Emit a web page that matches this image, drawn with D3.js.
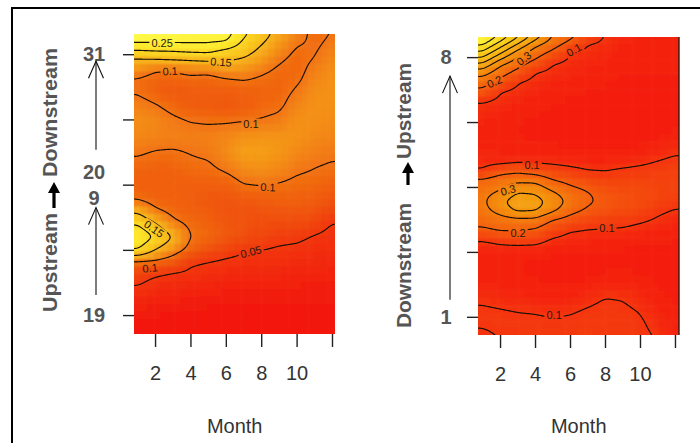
<!DOCTYPE html>
<html>
<head>
<meta charset="utf-8">
<script src="https://cdn.jsdelivr.net/npm/d3@7"></script>
<style>
  body { margin: 0; background: #fff; }
  text { font-family: 'Liberation Sans', Arial, sans-serif; }
</style>
</head>
<body>
<svg id="chart" width="700" height="443"></svg>
<script>
const months = d3.range(1, 13)

// left panel: site position (0 = site 19 ... 4 = site 31), one profile per month, top -> bottom
const leftPos = [4.31, 4.18, 4.06, 3.94, 3.79, 3.63, 3.45, 3.23, 2.99, 2.74, 2.5, 2.25, 2.01, 1.76, 1.58, 1.39, 1.2, 1.0, 0.81, 0.6, 0.35, 0.05, -0.29]
const leftByMonth = [
  [0.30, 0.25, 0.20, 0.15, 0.124, 0.098, 0.097, 0.107, 0.117, 0.113, 0.103, 0.092, 0.087, 0.099, 0.145, 0.20, 0.24, 0.20, 0.09, 0.06, 0.043, 0.03, 0.02],
  [0.29, 0.25, 0.205, 0.155, 0.105, 0.092, 0.088, 0.101, 0.112, 0.109, 0.099, 0.089, 0.088, 0.09, 0.106, 0.156, 0.197, 0.15, 0.09, 0.05, 0.037, 0.027, 0.02],
  [0.28, 0.253, 0.206, 0.159, 0.105, 0.092, 0.08, 0.092, 0.104, 0.108, 0.098, 0.09, 0.087, 0.09, 0.093, 0.108, 0.15, 0.117, 0.08, 0.043, 0.035, 0.026, 0.02],
  [0.27, 0.255, 0.213, 0.162, 0.113, 0.095, 0.085, 0.083, 0.099, 0.107, 0.101, 0.095, 0.088, 0.086, 0.089, 0.095, 0.099, 0.09, 0.054, 0.043, 0.033, 0.025, 0.02],
  [0.265, 0.255, 0.215, 0.167, 0.115, 0.092, 0.088, 0.083, 0.097, 0.108, 0.104, 0.096, 0.088, 0.08, 0.085, 0.09, 0.095, 0.075, 0.049, 0.04, 0.031, 0.024, 0.02],
  [0.272, 0.248, 0.19, 0.16, 0.128, 0.099, 0.086, 0.079, 0.097, 0.111, 0.114, 0.104, 0.088, 0.077, 0.076, 0.08, 0.082, 0.062, 0.045, 0.037, 0.03, 0.024, 0.02],
  [0.21, 0.19, 0.172, 0.148, 0.124, 0.102, 0.09, 0.085, 0.098, 0.118, 0.13, 0.115, 0.1, 0.082, 0.075, 0.076, 0.072, 0.052, 0.043, 0.036, 0.03, 0.024, 0.02],
  [0.168, 0.155, 0.14, 0.128, 0.108, 0.097, 0.091, 0.092, 0.101, 0.12, 0.127, 0.118, 0.102, 0.085, 0.075, 0.072, 0.064, 0.05, 0.042, 0.035, 0.029, 0.023, 0.02],
  [0.135, 0.125, 0.115, 0.105, 0.097, 0.092, 0.091, 0.095, 0.105, 0.12, 0.123, 0.113, 0.099, 0.088, 0.079, 0.07, 0.057, 0.047, 0.041, 0.035, 0.029, 0.023, 0.02],
  [0.11, 0.103, 0.097, 0.093, 0.092, 0.095, 0.102, 0.11, 0.118, 0.12, 0.113, 0.104, 0.095, 0.088, 0.08, 0.068, 0.055, 0.045, 0.04, 0.034, 0.028, 0.023, 0.02],
  [0.094, 0.096, 0.098, 0.1, 0.106, 0.111, 0.116, 0.119, 0.118, 0.113, 0.107, 0.1, 0.094, 0.085, 0.075, 0.062, 0.048, 0.042, 0.038, 0.033, 0.028, 0.023, 0.02],
  [0.101, 0.104, 0.108, 0.112, 0.116, 0.118, 0.119, 0.118, 0.115, 0.11, 0.104, 0.097, 0.088, 0.075, 0.062, 0.049, 0.043, 0.04, 0.037, 0.032, 0.028, 0.023, 0.02]
]
const leftLevels = [0.05, 0.1, 0.15, 0.2, 0.25]
const leftTicks = [0, 1, 2, 3, 4]
const leftTickLabels = [{ pos: 0, lines: ['19'] }, { pos: 2, lines: ['20', '9'] }, { pos: 4, lines: ['31'] }]
const leftContourLabels = [
  { text: '0.25', month: 2.4, pos: 4.17, angle: 0 },
  { text: '0.15', month: 5.73, pos: 3.88, angle: 4 },
  { text: '0.1', month: 2.85, pos: 3.74, angle: -3 },
  { text: '0.1', month: 7.42, pos: 2.93, angle: 0 },
  { text: '0.1', month: 8.38, pos: 1.96, angle: 2 },
  { text: '0.15', month: 1.94, pos: 1.32, angle: 35 },
  { text: '0.1', month: 1.72, pos: 0.72, angle: -5 },
  { text: '0.05', month: 7.42, pos: 0.97, angle: -14 }
]

// right panel: site position (0 = site 1 ... 4 = site 8)
const rightPos = [4.31, 4.2, 4.09, 3.98, 3.88, 3.77, 3.65, 3.49, 3.31, 3.06, 2.8, 2.57, 2.38, 2.23, 2.08, 1.92, 1.78, 1.65, 1.49, 1.34, 1.18, 1.0, 0.78, 0.54, 0.29, 0.08, -0.11, -0.28]
const rightByMonth = [
  [0.92, 0.815, 0.7, 0.583, 0.467, 0.35, 0.262, 0.183, 0.098, 0.082, 0.068, 0.078, 0.085, 0.108, 0.235, 0.265, 0.28, 0.27, 0.235, 0.185, 0.1, 0.07, 0.065, 0.075, 0.092, 0.107, 0.103, 0.095],
  [0.773, 0.657, 0.54, 0.423, 0.307, 0.249, 0.187, 0.103, 0.088, 0.072, 0.066, 0.075, 0.08, 0.175, 0.26, 0.31, 0.385, 0.34, 0.26, 0.21, 0.115, 0.075, 0.065, 0.072, 0.085, 0.104, 0.108, 0.101],
  [0.613, 0.496, 0.379, 0.283, 0.229, 0.173, 0.106, 0.091, 0.079, 0.068, 0.064, 0.072, 0.09, 0.19, 0.29, 0.4, 0.45, 0.43, 0.27, 0.21, 0.125, 0.07, 0.065, 0.07, 0.08, 0.1, 0.108, 0.104],
  [0.452, 0.335, 0.255, 0.208, 0.151, 0.099, 0.091, 0.081, 0.07, 0.064, 0.062, 0.07, 0.09, 0.167, 0.29, 0.39, 0.44, 0.42, 0.27, 0.19, 0.12, 0.07, 0.062, 0.066, 0.078, 0.098, 0.108, 0.106],
  [0.296, 0.242, 0.188, 0.129, 0.097, 0.09, 0.081, 0.072, 0.066, 0.062, 0.06, 0.068, 0.088, 0.14, 0.215, 0.31, 0.37, 0.33, 0.195, 0.14, 0.09, 0.068, 0.06, 0.063, 0.075, 0.094, 0.106, 0.107],
  [0.222, 0.166, 0.108, 0.094, 0.087, 0.08, 0.074, 0.068, 0.064, 0.06, 0.058, 0.064, 0.085, 0.12, 0.18, 0.24, 0.27, 0.235, 0.165, 0.105, 0.08, 0.065, 0.058, 0.062, 0.076, 0.097, 0.108, 0.11],
  [0.144, 0.098, 0.091, 0.085, 0.079, 0.074, 0.07, 0.065, 0.062, 0.059, 0.057, 0.062, 0.08, 0.105, 0.15, 0.205, 0.215, 0.19, 0.135, 0.098, 0.078, 0.065, 0.058, 0.066, 0.088, 0.105, 0.112, 0.113],
  [0.096, 0.09, 0.085, 0.08, 0.075, 0.071, 0.067, 0.063, 0.06, 0.058, 0.057, 0.062, 0.08, 0.102, 0.13, 0.165, 0.18, 0.165, 0.125, 0.096, 0.075, 0.063, 0.06, 0.075, 0.1, 0.112, 0.112, 0.108],
  [0.08, 0.077, 0.074, 0.071, 0.068, 0.066, 0.064, 0.062, 0.06, 0.058, 0.057, 0.064, 0.085, 0.11, 0.135, 0.155, 0.16, 0.15, 0.12, 0.094, 0.074, 0.063, 0.062, 0.078, 0.098, 0.107, 0.108, 0.107],
  [0.075, 0.073, 0.071, 0.069, 0.067, 0.065, 0.063, 0.061, 0.06, 0.058, 0.058, 0.068, 0.092, 0.115, 0.135, 0.148, 0.15, 0.14, 0.108, 0.085, 0.07, 0.062, 0.06, 0.07, 0.088, 0.099, 0.106, 0.108],
  [0.072, 0.07, 0.069, 0.067, 0.066, 0.065, 0.063, 0.061, 0.06, 0.059, 0.062, 0.08, 0.102, 0.12, 0.13, 0.135, 0.133, 0.112, 0.094, 0.078, 0.068, 0.062, 0.06, 0.063, 0.07, 0.08, 0.088, 0.097],
  [0.07, 0.069, 0.068, 0.067, 0.066, 0.065, 0.064, 0.062, 0.061, 0.061, 0.068, 0.09, 0.112, 0.125, 0.13, 0.128, 0.118, 0.098, 0.08, 0.07, 0.065, 0.061, 0.059, 0.06, 0.063, 0.068, 0.072, 0.075]
]
const rightLevels = [0.1, 0.2, 0.3, 0.4, 0.5, 0.6, 0.7, 0.8]
const rightTicks = [0, 1, 2, 3, 4]
const rightTickLabels = [{ pos: 0, lines: ['1'] }, { pos: 4, lines: ['8'] }]
const rightContourLabels = [
  { text: '0.1', month: 6.23, pos: 4.11, angle: -30 },
  { text: '0.2', month: 1.68, pos: 3.62, angle: -25 },
  { text: '0.3', month: 3.37, pos: 3.98, angle: -38 },
  { text: '0.1', month: 3.83, pos: 2.34, angle: 0 },
  { text: '0.3', month: 2.46, pos: 1.95, angle: -15 },
  { text: '0.2', month: 3.03, pos: 1.29, angle: 0 },
  { text: '0.1', month: 8.11, pos: 1.37, angle: 0 },
  { text: '0.1', month: 5.09, pos: 0.02, angle: 0 }
]

const xTicks = [2, 4, 6, 8, 10, 12]

const svg = d3.select('#chart')
const defs = svg.append('defs')

// outer frame of the figure
svg.append('rect')
  .attr('x', 12).attr('y', 8).attr('width', 720).attr('height', 460)
  .attr('fill', 'none').attr('stroke', '#000').attr('stroke-width', 2)

const makeField = (pos, byMonth) => (m, t) => {
  const mc = Math.max(1, Math.min(12, m))
  const i0 = Math.min(10, Math.floor(mc - 1))
  const fx = mc - 1 - i0
  const tc = Math.max(pos[pos.length - 1], Math.min(pos[0], t))
  let j = 0
  while (j < pos.length - 2 && pos[j + 1] > tc) j++
  const fy = (pos[j] - tc) / (pos[j] - pos[j + 1])
  const a = byMonth[i0][j], b = byMonth[i0 + 1][j]
  const c = byMonth[i0][j + 1], d = byMonth[i0 + 1][j + 1]
  return (a * (1 - fx) + b * fx) * (1 - fy) + (c * (1 - fx) + d * fx) * fy
}

const boxBlur = (src, w, h, r) => {
  const tmp = new Float64Array(w * h)
  const out = new Float64Array(w * h)
  for (let y = 0; y < h; y++) {
    for (let x = 0; x < w; x++) {
      let s = 0
      for (let k = -r; k <= r; k++) s += src[y * w + Math.max(0, Math.min(w - 1, x + k))]
      tmp[y * w + x] = s / (2 * r + 1)
    }
  }
  for (let y = 0; y < h; y++) {
    for (let x = 0; x < w; x++) {
      let s = 0
      for (let k = -r; k <= r; k++) s += tmp[Math.max(0, Math.min(h - 1, y + k)) * w + x]
      out[y * w + x] = s / (2 * r + 1)
    }
  }
  return out
}

const drawPanel = p => {
  const x = d3.scaleLinear().domain(p.monthDomain).range([p.x0, p.x1])
  const y = d3.scaleLinear().domain(p.posDomain).range([p.y1, p.y0])
  const field = makeField(p.pos, p.byMonth)

  // fine sampling of the surface, slightly larger than the plot so contour borders fall outside
  const pad = 4
  const nx = Math.round(p.x1 - p.x0) + 2 * pad
  const ny = Math.round(p.y1 - p.y0) + 2 * pad
  let grid = new Float64Array(nx * ny)
  for (let j = 0; j < ny; j++) {
    for (let i = 0; i < nx; i++) {
      grid[j * nx + i] = field(x.invert(p.x0 - pad + i + 0.5), y.invert(p.y0 - pad + j + 0.5))
    }
  }
  grid = boxBlur(boxBlur(grid, nx, ny, 3), nx, ny, 3)
  const sample = (px, py) => {
    const i = Math.max(0, Math.min(nx - 1, Math.floor(px - p.x0 + pad)))
    const j = Math.max(0, Math.min(ny - 1, Math.floor(py - p.y0 + pad)))
    return grid[j * nx + i]
  }

  const clipId = p.id + '-clip'
  defs.append('clipPath').attr('id', clipId)
    .append('rect')
    .attr('x', p.x0).attr('y', p.y0)
    .attr('width', p.x1 - p.x0).attr('height', p.y1 - p.y0)

  const blurId = p.id + '-soft'
  defs.append('filter').attr('id', blurId)
    .append('feGaussianBlur').attr('stdDeviation', 0.9)

  const plot = svg.append('g').attr('clip-path', `url(#${clipId})`)

  // image cells
  const cw = (p.x1 - p.x0) / p.cols
  const ch = (p.y1 - p.y0) / p.rows
  const cells = []
  for (let r = -1; r <= p.rows; r++) {
    for (let c = -1; c <= p.cols; c++) {
      cells.push({ c, r, v: sample(p.x0 + (c + 0.5) * cw, p.y0 + (r + 0.5) * ch) })
    }
  }
  plot.append('g')
    .attr('filter', `url(#${blurId})`)
    .selectAll('rect')
    .data(cells)
    .join('rect')
    .attr('x', d => p.x0 + d.c * cw)
    .attr('y', d => p.y0 + d.r * ch)
    .attr('width', cw + 0.6)
    .attr('height', ch + 0.6)
    .attr('fill', d => p.color(d.v))

  // contour lines
  const W = nx + 2, H = ny + 2
  const padded = new Float64Array(W * H).fill(-1)
  for (let j = 0; j < ny; j++) {
    for (let i = 0; i < nx; i++) padded[(j + 1) * W + i + 1] = grid[j * nx + i]
  }
  const contours = d3.contours().size([W, H]).thresholds(p.levels)(padded)

  // labels first, so the gaps in the lines can be measured
  const labelG = svg.append('g').attr('clip-path', `url(#${clipId})`)
  const labels = labelG.selectAll('text')
    .data(p.labels)
    .join('text')
    .attr('transform', d => `translate(${x(d.month)},${y(d.pos)}) rotate(${d.angle})`)
    .attr('text-anchor', 'middle')
    .attr('dy', '0.35em')
    .attr('font-size', 11)
    .attr('fill', '#2a1a10')
    .text(d => d.text)

  const maskId = p.id + '-gaps'
  const mask = defs.append('mask').attr('id', maskId).attr('maskUnits', 'userSpaceOnUse')
    .attr('x', 0).attr('y', 0).attr('width', 700).attr('height', 443)
  mask.append('rect').attr('width', 700).attr('height', 443).attr('fill', '#fff')
  labels.each(function (d) {
    const w = this.getComputedTextLength()
    mask.append('rect')
      .attr('transform', `translate(${x(d.month)},${y(d.pos)}) rotate(${d.angle})`)
      .attr('x', -w / 2 - 2).attr('y', -5.5).attr('width', w + 4).attr('height', 11)
      .attr('fill', '#000')
  })

  plot.append('g')
    .attr('mask', `url(#${maskId})`)
    .selectAll('path')
    .data(contours)
    .join('path')
    .attr('transform', `translate(${p.x0 - pad - 1},${p.y0 - pad - 1})`)
    .attr('d', d3.geoPath())
    .attr('fill', 'none')
    .attr('stroke', '#161008')
    .attr('stroke-width', 1.15)

  labelG.raise()

  // x axis: ticks only
  const xAxis = svg.append('g')
    .attr('transform', `translate(0,${p.y1})`)
    .call(d3.axisBottom(x).tickValues(xTicks).tickSize(13).tickPadding(19)
      .tickFormat(d => (d === 12 ? '' : d)))
  xAxis.select('.domain').remove()
  xAxis.selectAll('line').attr('stroke', '#222').attr('stroke-width', 1.4)
  xAxis.selectAll('text').attr('font-size', 20).attr('fill', '#333')
    .attr('font-family', "'Liberation Sans', Arial, sans-serif")

  svg.append('text')
    .attr('x', x(p.titleMonth)).attr('y', 433)
    .attr('text-anchor', 'middle')
    .attr('font-size', 20).attr('fill', '#333')
    .text('Month')

  // y axis: ticks only, labels drawn by hand
  const yAxis = svg.append('g')
    .attr('transform', `translate(${p.x0},0)`)
    .call(d3.axisLeft(y).tickValues(p.ticks).tickSize(11).tickFormat(''))
  yAxis.select('.domain').remove()
  yAxis.selectAll('line').attr('stroke', '#222').attr('stroke-width', 1.4)

  p.tickLabels.forEach(l => {
    const n = l.lines.length
    l.lines.forEach((s, k) => {
      svg.append('text')
        .attr('x', p.labelX)
        .attr('y', y(l.pos) + (k - (n - 1) / 2) * 26)
        .attr('dy', '0.36em')
        .attr('text-anchor', 'middle')
        .attr('font-size', 20).attr('font-weight', 'bold').attr('fill', '#555')
        .text(s)
    })
  })

  // thin arrows beside the site labels
  p.arrows.forEach(a => {
    const head = y(a.to) + a.headGap
    const tail = y(a.from) - a.tailGap
    const ag = svg.append('g').attr('stroke', '#111').attr('stroke-width', 1.1).attr('fill', 'none')
    ag.append('line').attr('x1', p.arrowX).attr('x2', p.arrowX).attr('y1', tail).attr('y2', head)
    ag.append('path').attr('d', `M${p.arrowX - 7.5},${head + 17}L${p.arrowX},${head}L${p.arrowX + 7.5},${head + 17}`)
  })

  // axis title with the bold direction arrow
  const tg = svg.append('g').attr('font-size', 21).attr('font-weight', 'bold').attr('fill', '#555')
  p.title.forEach(t => {
    tg.append('text')
      .attr('transform', `translate(${p.titleX},${t.start}) rotate(-90)`)
      .attr('textLength', t.length).attr('lengthAdjust', 'spacingAndGlyphs')
      .text(t.text)
  })
  const ax = p.titleX - 3, ab = p.titleArrow[0], at = p.titleArrow[1]
  svg.append('path')
    .attr('d', `M${ax - 1.6},${ab}V${at + 11}H${ax - 6}L${ax},${at}L${ax + 6},${at + 11}H${ax + 1.6}V${ab}Z`)
    .attr('fill', '#000')

  if (p.rightEdge) {
    svg.append('line')
      .attr('x1', p.x1).attr('x2', p.x1).attr('y1', p.y0).attr('y2', p.y1)
      .attr('stroke', '#2a1a10').attr('stroke-width', 1.4)
  }
}

drawPanel({
  id: 'left',
  x0: 134, x1: 335, y0: 34, y1: 334,
  monthDomain: [0.81, 12.17], posDomain: [-0.29, 4.31],
  pos: leftPos, byMonth: leftByMonth, levels: leftLevels,
  labels: leftContourLabels, ticks: leftTicks, tickLabels: leftTickLabels,
  cols: 30, rows: 40,
  color: d3.scaleLinear()
    .domain([0.02, 0.04, 0.07, 0.09, 0.11, 0.13, 0.16, 0.22, 0.3])
    .range(['#f2120a', '#f22c0a', '#f04c0c', '#f0620f', '#f38416', '#f5a21a', '#f8c01c', '#fde62a', '#ffff50'])
    .clamp(true),
  titleMonth: 6.5,
  labelX: 94, arrowX: 96,
  arrows: [{ from: 2, to: 4, headGap: 7, tailGap: 35 }, { from: 0, to: 2, headGap: 23, tailGap: 20 }],
  title: [{ text: 'Upstream', start: 312, length: 99 }, { text: 'Downstream', start: 177, length: 129 }],
  titleX: 57, titleArrow: [208, 182],
  rightEdge: false
})

drawPanel({
  id: 'right',
  x0: 478, x1: 679, y0: 37, y1: 335,
  monthDomain: [0.74, 12.23], posDomain: [-0.28, 4.31],
  pos: rightPos, byMonth: rightByMonth, levels: rightLevels,
  labels: rightContourLabels, ticks: rightTicks, tickLabels: rightTickLabels,
  cols: 30, rows: 40,
  color: d3.scaleLinear()
    .domain([0.057, 0.08, 0.1, 0.15, 0.2, 0.3, 0.45, 0.65, 0.92])
    .range(['#f41c0a', '#f4260a', '#f4340b', '#f44c0c', '#f4600d', '#f47f0f', '#f5a512', '#f8cc1a', '#fffa40'])
    .clamp(true),
  titleMonth: 6.5,
  labelX: 446, arrowX: 450,
  arrows: [{ from: 0, to: 4, headGap: 19, tailGap: 17 }],
  title: [{ text: 'Downstream', start: 328, length: 125 }, { text: 'Upstream', start: 159, length: 96 }],
  titleX: 411, titleArrow: [185, 162],
  rightEdge: true
})
</script>
</body>
</html>
